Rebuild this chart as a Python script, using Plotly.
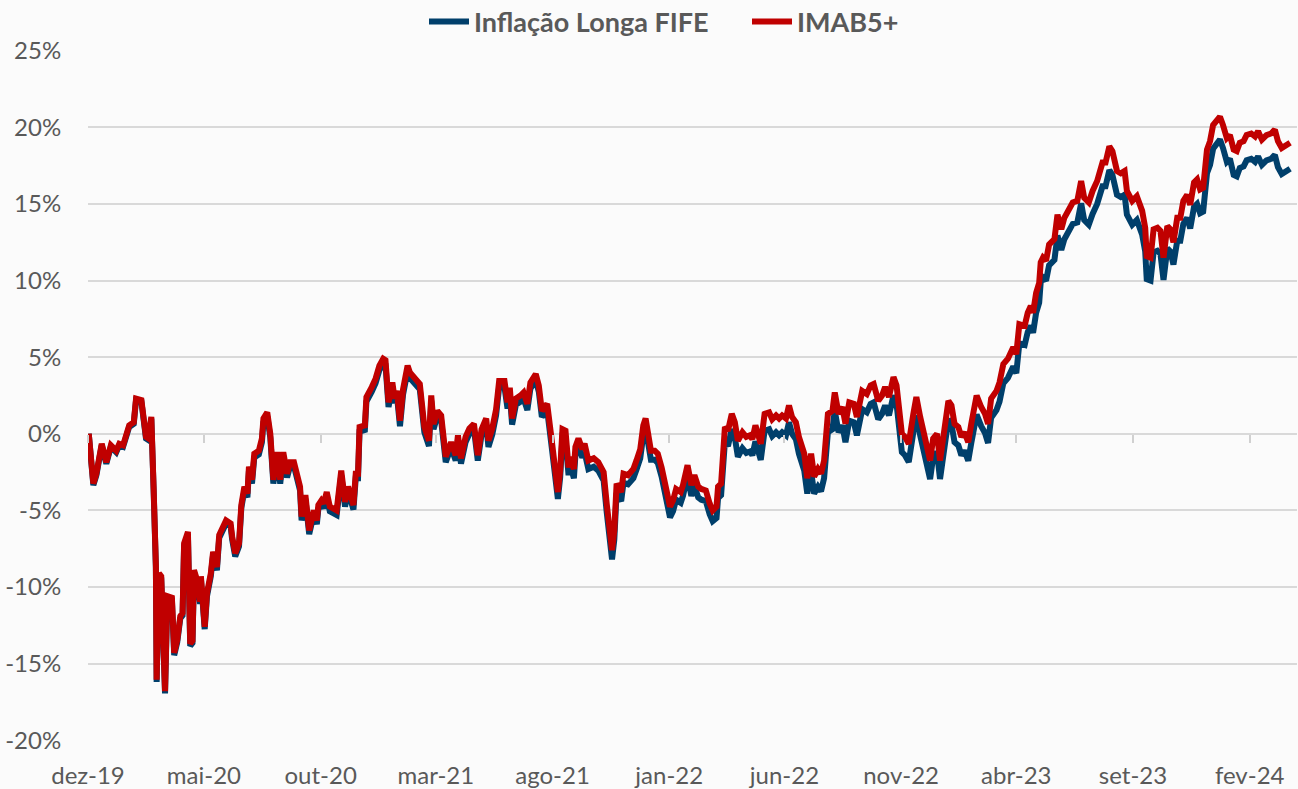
import plotly.graph_objects as go

datas = [
"2019-12-02","2019-12-08","2019-12-12","2019-12-19","2019-12-25","2019-12-31","2020-01-07","2020-01-11","2020-01-16","2020-01-20",
"2020-01-24","2020-01-30","2020-02-02","2020-02-09","2020-02-15","2020-02-18","2020-02-22","2020-02-25","2020-02-28","2020-02-29",
"2020-03-03","2020-03-06","2020-03-09","2020-03-11","2020-03-14","2020-03-20","2020-03-23","2020-03-27","2020-03-31","2020-04-03",
"2020-04-05","2020-04-10","2020-04-13","2020-04-16","2020-04-18","2020-04-22","2020-04-26","2020-04-27","2020-05-02","2020-05-05",
"2020-05-10","2020-05-13","2020-05-18","2020-05-21","2020-05-30","2020-06-05","2020-06-07","2020-06-11","2020-06-16","2020-06-19",
"2020-06-23","2020-06-27","2020-06-29","2020-07-03","2020-07-06","2020-07-12","2020-07-16","2020-07-18","2020-07-23","2020-07-27",
"2020-07-31","2020-08-05","2020-08-09","2020-08-13","2020-08-18","2020-08-22","2020-08-27","2020-08-31","2020-09-04","2020-09-06",
"2020-09-11","2020-09-16","2020-09-22","2020-09-26","2020-09-28","2020-10-02","2020-10-05","2020-10-09","2020-10-13","2020-10-22",
"2020-10-28","2020-11-02","2020-11-06","2020-11-13","2020-11-16","2020-11-19","2020-11-21","2020-11-28","2020-11-30","2020-12-07",
"2020-12-12","2020-12-17","2020-12-22","2020-12-25","2020-12-29","2021-01-03","2021-01-06","2021-01-09","2021-01-13","2021-01-17",
"2021-01-23","2021-01-26","2021-02-01","2021-02-08","2021-02-14","2021-02-20","2021-02-23","2021-02-26","2021-03-03","2021-03-08",
"2021-03-14","2021-03-21","2021-03-27","2021-03-30","2021-04-03","2021-04-09","2021-04-14","2021-04-20","2021-04-25","2021-04-30",
"2021-05-06","2021-05-09","2021-05-14","2021-05-19","2021-05-23","2021-05-30","2021-06-03","2021-06-06","2021-06-09","2021-06-14",
"2021-06-20","2021-06-24","2021-06-29","2021-07-03","2021-07-10","2021-07-14","2021-07-18","2021-07-25","2021-07-31","2021-08-05",
"2021-08-08","2021-08-11","2021-08-14","2021-08-18","2021-08-22","2021-08-24","2021-08-29","2021-08-31","2021-09-04","2021-09-09",
"2021-09-12","2021-09-17","2021-09-24","2021-09-30","2021-10-07","2021-10-11","2021-10-15","2021-10-18","2021-10-21","2021-10-24",
"2021-10-30","2021-11-02","2021-11-08","2021-11-15","2021-11-19","2021-11-24","2021-11-28","2021-12-01","2021-12-04","2021-12-08",
"2021-12-13","2021-12-17","2021-12-22","2021-12-28","2022-01-02","2022-01-06","2022-01-10","2022-01-16","2022-01-19","2022-01-25",
"2022-01-30","2022-02-03","2022-02-08","2022-02-12","2022-02-18","2022-02-23","2022-02-27","2022-03-04","2022-03-06","2022-03-10",
"2022-03-15","2022-03-19","2022-03-24","2022-03-28","2022-04-01","2022-04-07","2022-04-12","2022-04-17","2022-04-20","2022-04-24",
"2022-04-28","2022-05-01","2022-05-06","2022-05-12","2022-05-16","2022-05-21","2022-05-25","2022-05-29","2022-06-03","2022-06-07",
"2022-06-11","2022-06-16","2022-06-20","2022-06-27","2022-07-01","2022-07-06","2022-07-10","2022-07-15","2022-07-19","2022-07-23",
"2022-07-28","2022-08-03","2022-08-06","2022-08-11","2022-08-16","2022-08-20","2022-08-25","2022-08-31","2022-09-04","2022-09-11",
"2022-09-17","2022-09-22","2022-09-26","2022-10-02","2022-10-07","2022-10-11","2022-10-16","2022-10-22","2022-10-26","2022-10-31",
"2022-11-02","2022-11-06","2022-11-11","2022-11-17","2022-11-21","2022-11-26","2022-12-02","2022-12-09","2022-12-13","2022-12-18",
"2022-12-22","2022-12-26","2023-01-02","2023-01-06","2023-01-10","2023-01-15","2023-01-19","2023-01-23","2023-01-28","2023-02-01",
"2023-02-08","2023-02-14","2023-02-19","2023-02-23","2023-02-27","2023-03-06","2023-03-10","2023-03-15","2023-03-21","2023-03-28",
"2023-04-01","2023-04-05","2023-04-12","2023-04-16","2023-04-20","2023-04-23","2023-04-27","2023-05-01","2023-05-03","2023-05-06",
"2023-05-10","2023-05-14","2023-05-21","2023-05-25","2023-05-30","2023-06-03","2023-06-09","2023-06-14","2023-06-20","2023-06-25",
"2023-06-29","2023-07-05","2023-07-10","2023-07-16","2023-07-23","2023-07-27","2023-08-01","2023-08-05","2023-08-11","2023-08-16",
"2023-08-21","2023-08-24","2023-08-31","2023-09-06","2023-09-13","2023-09-17","2023-09-19","2023-09-24","2023-09-28","2023-10-03",
"2023-10-07","2023-10-11","2023-10-16","2023-10-20","2023-10-24","2023-10-29","2023-11-02","2023-11-06","2023-11-11","2023-11-15",
"2023-11-20","2023-11-24","2023-11-28","2023-12-02","2023-12-07","2023-12-11","2023-12-15","2023-12-20","2023-12-24","2023-12-28",
"2024-01-02","2024-01-06","2024-01-11","2024-01-15","2024-01-19","2024-01-24","2024-01-28","2024-02-03","2024-02-08","2024-02-12",
"2024-02-17","2024-02-23","2024-02-29","2024-03-05","2024-03-09","2024-03-14","2024-03-20","2024-03-25",
]

imab5 = [
0.0,-3.25,-2.6,-0.65,-1.85,-0.75,-1.1,-0.65,-0.75,-0.1,
0.55,0.75,2.3,2.2,-0.2,-0.3,1.1,-3.5,-8.6,-16.05,
-9.1,-9.3,-13.4,-16.8,-10.6,-10.7,-14.3,-13.45,-11.9,-11.7,
-7.15,-6.4,-13.7,-13.5,-8.9,-9.55,-10.95,-9.3,-12.6,-10.4,
-9.1,-7.7,-8.7,-6.6,-5.65,-5.85,-6.7,-7.8,-7.15,-4.65,
-3.45,-3.9,-2.15,-3.0,-1.3,-1.1,-0.3,1.0,1.4,0.0,
-3.0,-1.2,-3.0,-1.2,-2.6,-1.85,-1.85,-2.8,-3.45,-5.4,
-4.0,-6.3,-5.0,-5.65,-4.65,-4.35,-4.55,-3.8,-4.75,-5.0,
-2.4,-4.45,-3.45,-4.65,-2.6,-2.6,0.45,0.55,2.4,3.05,
3.6,4.45,4.9,4.8,2.05,3.35,2.3,2.8,0.85,2.9,
4.45,4.0,3.7,3.25,0.45,-0.45,2.5,0.65,1.5,1.2,
-1.5,-0.55,-1.4,-0.1,-1.6,-0.2,0.35,0.65,-1.4,0.3,
1.0,-0.45,0.35,1.6,3.45,3.45,2.05,3.0,1.0,2.3,
2.5,2.7,1.95,3.35,3.9,3.15,1.5,1.95,-0.45,-2.4,
-3.8,-2.4,0.3,0.2,-2.2,-1.5,-2.3,-0.85,-0.3,-1.0,
-0.65,-1.75,-1.6,-1.85,-2.5,-4.55,-6.3,-7.6,-6.3,-3.25,
-3.8,-2.6,-2.7,-2.3,-1.75,-1.0,0.55,1.0,0.1,-1.1,
-1.1,-1.3,-2.2,-3.8,-4.75,-4.35,-3.6,-3.8,-3.35,-2.05,
-3.35,-2.7,-3.45,-3.6,-3.7,-4.55,-5.0,-4.75,-3.45,-3.25,
0.45,0.2,1.3,0.75,-0.45,0.1,-0.2,-0.1,-0.35,0.55,
-0.1,-0.65,1.3,1.4,0.95,1.2,1.0,1.2,1.0,1.85,
1.1,0.75,-0.2,-1.3,-2.9,-1.3,-2.8,-2.3,-2.6,-1.75,
1.3,1.5,2.7,1.3,1.75,0.65,2.05,1.95,1.1,2.8,
2.6,3.15,3.25,2.15,2.5,3.05,2.4,3.7,3.15,1.3,
0.0,-0.2,-0.65,1.3,2.4,1.1,-0.45,-1.75,-0.3,0.0,
-1.75,-0.2,2.15,1.85,0.65,0.45,-0.2,0.1,-0.55,0.65,
2.5,1.75,1.3,0.65,2.3,2.8,3.35,4.55,4.9,5.65,
5.2,7.15,7.05,7.9,8.35,7.9,9.2,9.85,11.2,11.5,
11.3,12.35,12.7,14.3,13.35,14.1,14.55,15.1,15.2,16.5,
15.4,15.1,15.85,16.5,17.7,17.7,18.75,18.45,17.15,17.0,
17.15,15.85,15.2,15.5,14.55,13.45,11.6,11.5,13.35,13.45,
13.25,11.5,13.55,13.35,12.5,14.1,14.1,15.2,15.6,14.95,
16.4,16.6,15.95,16.05,18.55,19.1,20.15,20.5,20.7,20.15,
19.3,19.5,18.55,18.45,19.0,19.1,19.5,19.6,19.4,19.75,
19.2,19.5,19.6,19.85,19.1,18.65,18.85,19.0,
]

inflacao_longa_fife = [
0.0,-3.35,-2.7,-0.75,-1.95,-0.85,-1.2,-0.75,-0.85,-0.2,
0.45,0.65,2.2,2.1,-0.3,-0.4,1.0,-3.6,-8.75,-16.2,
-9.25,-9.45,-13.55,-16.95,-10.75,-10.85,-14.45,-13.6,-12.05,-11.85,
-7.3,-6.55,-13.85,-13.65,-9.05,-9.7,-11.1,-9.45,-12.75,-10.6,
-9.3,-7.9,-8.9,-6.8,-5.85,-6.05,-6.9,-8.0,-7.35,-4.85,
-3.7,-4.15,-2.4,-3.25,-1.55,-1.35,-0.55,0.75,1.15,-0.25,
-3.25,-1.45,-3.25,-1.45,-2.85,-2.1,-2.1,-3.05,-3.7,-5.65,
-4.25,-6.55,-5.25,-5.9,-4.9,-4.6,-4.85,-4.1,-5.05,-5.3,
-2.7,-4.75,-3.75,-4.95,-2.9,-2.9,0.15,0.25,2.1,2.75,
3.3,4.15,4.6,4.5,1.75,3.05,2.0,2.5,0.5,2.55,
4.1,3.65,3.35,2.9,0.1,-0.8,2.15,0.3,1.15,0.85,
-1.85,-0.9,-1.75,-0.45,-1.95,-0.55,0.0,0.3,-1.75,-0.05,
0.6,-0.85,-0.05,1.2,3.05,3.05,1.65,2.6,0.6,1.9,
2.1,2.3,1.55,2.95,3.5,2.75,1.1,1.55,-0.9,-2.85,
-4.25,-2.85,-0.2,-0.3,-2.7,-2.0,-2.9,-1.4,-0.85,-1.55,
-1.2,-2.3,-2.15,-2.4,-3.05,-5.1,-6.85,-8.2,-6.9,-3.85,
-4.4,-3.2,-3.3,-2.9,-2.35,-1.6,-0.05,0.4,-0.5,-1.7,
-1.7,-1.9,-2.8,-4.4,-5.45,-5.05,-4.3,-4.5,-4.05,-2.75,
-4.05,-3.4,-4.15,-4.3,-4.4,-5.25,-5.7,-5.5,-4.2,-4.0,
-0.5,-0.8,0.3,-0.25,-1.5,-0.95,-1.25,-1.15,-1.4,-0.5,
-1.15,-1.7,0.2,0.3,-0.15,0.1,-0.1,0.1,-0.1,0.75,
0.0,-0.35,-1.3,-2.4,-3.9,-2.45,-3.9,-3.45,-3.75,-2.9,
0.1,0.3,1.5,0.1,0.55,-0.55,0.85,0.75,-0.1,1.6,
1.4,1.95,2.05,0.95,1.3,1.85,1.2,2.5,1.95,0.1,
-1.2,-1.4,-1.85,0.1,1.2,-0.1,-1.65,-2.95,-1.5,-1.2,
-2.95,-1.4,0.95,0.65,-0.55,-0.75,-1.4,-1.1,-1.75,-0.6,
1.25,0.5,0.05,-0.6,1.05,1.55,2.1,3.3,3.65,4.4,
3.95,5.9,5.8,6.65,7.05,6.6,7.9,8.55,9.9,10.2,
10.0,11.0,11.35,12.95,12.0,12.7,13.15,13.7,13.8,15.05,
13.95,13.65,14.35,15.0,16.15,16.15,17.2,16.9,15.6,15.45,
15.6,14.3,13.65,13.95,13.0,11.9,10.1,10.0,11.85,11.95,
11.75,10.05,12.1,11.9,11.05,12.6,12.6,13.7,14.1,13.4,
14.8,15.0,14.4,14.5,17.0,17.55,18.6,18.95,19.2,18.65,
17.75,17.95,16.9,16.8,17.35,17.45,17.85,17.95,17.75,18.1,
17.55,17.85,17.95,18.2,17.4,16.95,17.15,17.3,
]

tick_datas = ["2019-12-01","2020-05-01","2020-10-01","2021-03-01","2021-08-01","2022-01-01",
              "2022-06-01","2022-11-01","2023-04-01","2023-09-01","2024-02-01"]
tick_rotulos = ["dez-19","mai-20","out-20","mar-21","ago-21","jan-22",
                "jun-22","nov-22","abr-23","set-23","fev-24"]
y_ticks = [-20, -15, -10, -5, 0, 5, 10, 15, 20, 25]
y_rotulos = [f"{v}%" for v in y_ticks]

x_range = ["2019-12-01", "2024-04-03"]
y_min, y_max = -20.05, 25.05

fig = go.Figure()
fig.add_trace(go.Scatter(x=datas, y=inflacao_longa_fife, mode="lines",
                         name="Inflação Longa FIFE", xaxis="x", yaxis="y",
                         line=dict(color="#003f6b", width=6)))
# red series on the overlaying x-axis (same range) so it is drawn on top
fig.add_trace(go.Scatter(x=datas, y=imab5, mode="lines", name="IMAB5+",
                         xaxis="x2", yaxis="y",
                         line=dict(color="#c00000", width=6)))

fig.update_layout(
    width=1298, height=789,
    margin=dict(l=88, r=1, t=50, b=48, autoexpand=False),
    paper_bgcolor="#fbfbfb", plot_bgcolor="#fbfbfb",
    showlegend=True,
    legend=dict(orientation="h", xref="container", yref="container",
                x=424 / 1298, y=1 - 22 / 789, xanchor="left", yanchor="middle",
                font=dict(family="Lato", size=27, color="#595959", weight="bold"),
                bgcolor="rgba(0,0,0,0)", entrywidth=268, entrywidthmode="pixels",
                itemwidth=40, tracegroupgap=0),
    xaxis=dict(type="date", range=x_range, tickvals=tick_datas, ticktext=tick_rotulos,
               showgrid=False, zeroline=False, showline=False, automargin=False,
               ticks="outside", ticklen=13, tickcolor="rgba(0,0,0,0)",
               tickfont=dict(family="Lato", size=24, color="#595959")),
    xaxis2=dict(type="date", range=x_range, tickvals=tick_datas, overlaying="x",
                anchor="free", side="bottom",
                position=(0 - y_min) / (y_max - y_min),
                showgrid=False, zeroline=False, showline=False, automargin=False,
                showticklabels=False, ticks="outside", ticklen=8,
                tickcolor="#d0d0d0", tickwidth=2),
    yaxis=dict(range=[y_min, y_max], tickvals=y_ticks, ticktext=y_rotulos,
               showgrid=True, gridcolor="#d9d9d9", gridwidth=1.5,
               zeroline=False, showline=False, automargin=False,
               ticks="outside", ticklen=21, tickcolor="rgba(0,0,0,0)",
               tickfont=dict(family="Lato", size=24, color="#595959")),
)

fig.write_html("out.html", config={"displayModeBar": False},
               post_script="document.body.style.margin='0';document.body.style.overflow='hidden';")
